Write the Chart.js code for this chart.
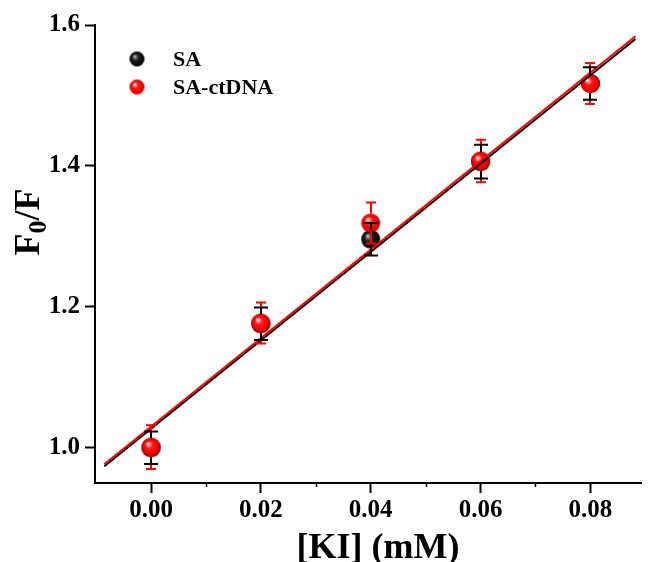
<!DOCTYPE html>
<html>
<head>
<meta charset="utf-8">
<script src="https://cdn.jsdelivr.net/npm/chart.js@4/dist/chart.umd.min.js"></script>
<style>
  html, body { margin: 0; padding: 0; background: #fff; }
  #wrap { width: 652px; height: 562px; }
</style>
</head>
<body>
<div id="wrap"><canvas id="c" width="652" height="562"></canvas></div>
<script>
// KI concentration (mM) and Stern-Volmer ratios F0/F
const kiConc   = [0, 0.02, 0.04, 0.06, 0.08];
const saRatio  = [1.000, 1.176, 1.296, 1.406, 1.517];
const saError  = [0.023, 0.023, 0.023, 0.024, 0.023];
const ctRatio  = [1.001, 1.177, 1.319, 1.407, 1.517];
const ctError  = [0.031, 0.029, 0.029, 0.030, 0.029];

// linear fit lines (end points)
const fitX  = [-0.0085, 0.0882];
const saFit = [0.9737, 1.580];
const ctFit = [0.9767, 1.584];

// axis ticks
const xTicks      = [0, 0.02, 0.04, 0.06, 0.08];
const xMinorTicks = [0.01, 0.03, 0.05, 0.07];
const yTicks      = [1.0, 1.2, 1.4, 1.6];

const seriesNames = ['SA', 'SA-ctDNA'];

const SERIF = '"Liberation Serif", "Times New Roman", serif';
const R = 9.5;

// shaded sphere markers
function sphere(r, stops) {
  const c = document.createElement('canvas');
  const s = Math.ceil(r * 2) + 2;
  c.width = s; c.height = s;
  const g = c.getContext('2d');
  const cx = s / 2, cy = s / 2;
  const grad = g.createRadialGradient(cx - r * 0.35, cy - r * 0.38, 0, cx, cy, r);
  stops.forEach(([o, col]) => grad.addColorStop(o, col));
  g.fillStyle = grad;
  g.beginPath(); g.arc(cx, cy, r, 0, Math.PI * 2); g.fill();
  return c;
}
const redStops   = [[0, '#ffffff'], [0.14, '#ffb0b0'], [0.38, '#ff1a1a'], [0.8, '#f00000'], [1, '#b80000']];
const blackStops = [[0, '#e8e8e8'], [0.16, '#8a8a8a'], [0.42, '#202020'], [1, '#000000']];
const redBall   = sphere(R, redStops);
const blackBall = sphere(R, blackStops);
const redSmall   = sphere(7.5, redStops);
const blackSmall = sphere(7.5, blackStops);

const pts = (xs, ys) => xs.map((x, i) => ({ x: x, y: ys[i] }));

const overlay = {
  id: 'overlay',
  afterDatasetsDraw(chart) {
    const ctx = chart.ctx;
    const xs = chart.scales.x, ys = chart.scales.y;
    // error bars drawn from the marker edge out to the caps
    const bars = (vals, errs, color, capW) => {
      ctx.save();
      ctx.strokeStyle = color; ctx.lineWidth = 2; ctx.lineCap = 'butt';
      kiConc.forEach((x, i) => {
        const px = Math.round(xs.getPixelForValue(x));
        const pc = ys.getPixelForValue(vals[i]);
        const pt = ys.getPixelForValue(vals[i] + errs[i]);
        const pb = ys.getPixelForValue(vals[i] - errs[i]);
        ctx.beginPath();
        if (pt < pc - R) { ctx.moveTo(px, pc - R); ctx.lineTo(px, pt); }
        if (pb > pc + R) { ctx.moveTo(px, pc + R); ctx.lineTo(px, pb); }
        ctx.moveTo(px - capW / 2, pt); ctx.lineTo(px + capW / 2, pt);
        ctx.moveTo(px - capW / 2, pb); ctx.lineTo(px + capW / 2, pb);
        ctx.stroke();
      });
      ctx.restore();
    };
    bars(ctRatio, ctError, '#ff0000', 10);
    bars(saRatio, saError, '#000000', 14);

    // minor ticks on the x axis
    ctx.save();
    ctx.strokeStyle = '#000'; ctx.lineWidth = 1.5;
    const b = chart.chartArea.bottom;
    xMinorTicks.forEach(v => {
      const px = Math.round(xs.getPixelForValue(v)) + 0.5;
      ctx.beginPath(); ctx.moveTo(px, b); ctx.lineTo(px, b + 4); ctx.stroke();
    });
    ctx.restore();
  },
  afterDraw(chart) {
    const ctx = chart.ctx;
    ctx.save();
    ctx.fillStyle = '#000';
    // x axis title
    ctx.font = 'bold 36px ' + SERIF;
    ctx.textAlign = 'center'; ctx.textBaseline = 'alphabetic';
    ctx.fillText('[KI] (mM)', 378, 558);

    // y axis title F0/F with subscript
    ctx.translate(39, 222);
    ctx.rotate(-Math.PI / 2);
    const big = 'bold 36px ' + SERIF, small = 'bold 26px ' + SERIF;
    ctx.font = big; const wF = ctx.measureText('F').width; const wSl = ctx.measureText('/F').width;
    ctx.font = small; const w0 = ctx.measureText('0').width;
    let x0 = -(wF + w0 + wSl) / 2;
    ctx.textAlign = 'left';
    ctx.font = big; ctx.fillText('F', x0, 0); x0 += wF;
    ctx.font = small; ctx.fillText('0', x0, 7); x0 += w0;
    ctx.font = big; ctx.fillText('/F', x0, 0);
    ctx.restore();

    // legend
    ctx.save();
    ctx.font = 'bold 22px ' + SERIF;
    ctx.textAlign = 'left'; ctx.textBaseline = 'middle';
    ctx.fillStyle = '#000';
    const legend = [[blackSmall, 59], [redSmall, 87]];
    legend.forEach(([img, y], i) => {
      ctx.drawImage(img, 137 - img.width / 2, y - img.height / 2);
      ctx.fillText(seriesNames[i], 173, y + 1);
    });
    ctx.restore();
  }
};

const tickFont = { family: SERIF, size: 25, weight: 'bold' };

new Chart(document.getElementById('c'), {
  type: 'scatter',
  data: {
    datasets: [
      { label: seriesNames[1] + ' fit', data: pts(fitX, ctFit), showLine: true, borderColor: '#ff0000',
        borderWidth: 2, pointRadius: 0, order: 1 },
      { label: seriesNames[0] + ' fit', data: pts(fitX, saFit), showLine: true, borderColor: '#000000',
        borderWidth: 2, pointRadius: 0, order: 2 },
      { label: seriesNames[1], data: pts(kiConc, ctRatio), pointStyle: redBall, pointRadius: R, order: 3 },
      { label: seriesNames[0], data: pts(kiConc, saRatio), pointStyle: blackBall, pointRadius: R, order: 4 }
    ]
  },
  options: {
    responsive: false,
    animation: false,
    devicePixelRatio: 1,
    layout: { padding: { top: 25, right: 0, left: 0, bottom: 0 } },
    plugins: { legend: { display: false }, tooltip: { enabled: false } },
    scales: {
      x: {
        type: 'linear', min: -0.0102, max: 0.0893,
        afterBuildTicks: s => { s.ticks = xTicks.map(v => ({ value: v })); },
        afterFit: s => { s.height = 79; },
        ticks: { font: tickFont, color: '#000', padding: 3, autoSkip: false, maxRotation: 0,
                 callback: v => Number(v).toFixed(2) },
        grid: { drawOnChartArea: false, drawTicks: true, tickLength: 10, tickWidth: 2, tickColor: '#000' },
        border: { display: true, color: '#000', width: 2 }
      },
      y: {
        type: 'linear', min: 0.95, max: 1.6,
        afterBuildTicks: s => { s.ticks = yTicks.map(v => ({ value: v })); },
        afterFit: s => { s.width = 95; },
        ticks: { font: tickFont, color: '#000', padding: 5, autoSkip: false,
                 callback: v => Number(v).toFixed(1) },
        grid: { drawOnChartArea: false, drawTicks: true, tickLength: 10, tickWidth: 2, tickColor: '#000' },
        border: { display: true, color: '#000', width: 2 }
      }
    }
  },
  plugins: [overlay]
});
</script>
</body>
</html>
